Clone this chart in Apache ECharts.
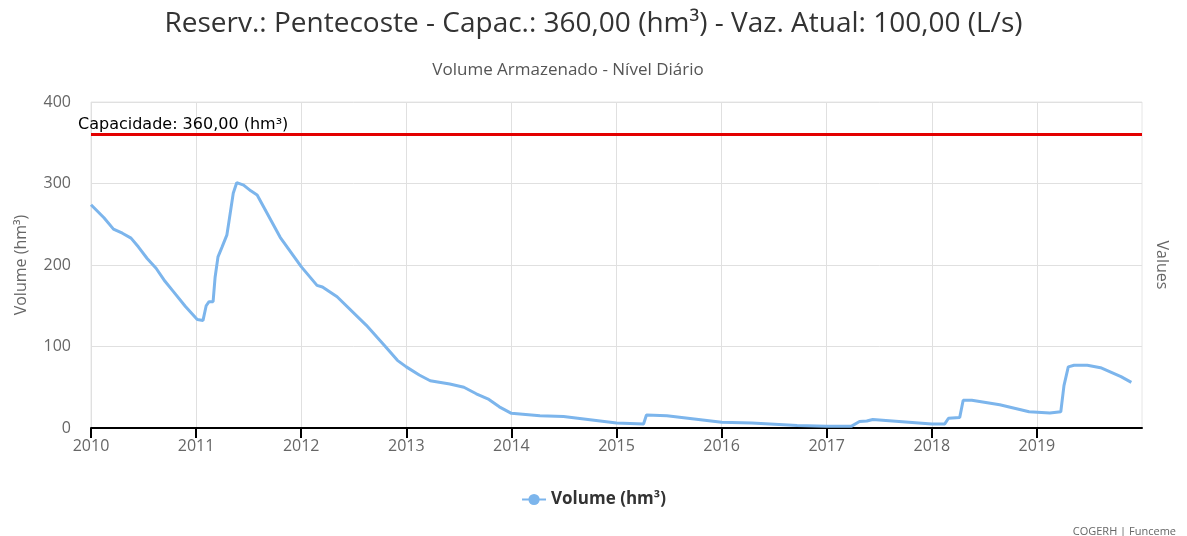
<!DOCTYPE html>
<html>
<head>
<meta charset="utf-8">
<script src="https://cdn.jsdelivr.net/npm/echarts@6/dist/echarts.min.js"></script>
<style>
  html, body { margin: 0; padding: 0; background: #fff; }
  #chart { width: 1187px; height: 536px; }
</style>
</head>
<body>
<div id="chart"></div>
<script>
// datas (volume diário, hm³)
var dates = [
  '2010-01-01', '2010-02-15', '2010-03-20', '2010-04-20', '2010-05-20', '2010-06-15',
  '2010-07-15', '2010-08-15', '2010-09-15', '2010-10-15', '2010-11-25', '2011-01-05',
  '2011-01-25', '2011-02-05', '2011-02-15', '2011-03-01', '2011-03-08', '2011-03-18',
  '2011-04-01', '2011-04-18', '2011-04-25', '2011-05-10', '2011-05-22', '2011-06-15',
  '2011-07-10', '2011-08-01', '2011-10-20', '2012-01-01', '2012-02-25', '2012-03-15',
  '2012-05-05', '2012-08-15', '2012-10-20', '2012-12-01', '2013-01-01', '2013-02-15',
  '2013-03-25', '2013-06-01', '2013-07-20', '2013-09-01', '2013-10-15', '2013-11-20',
  '2014-01-01', '2014-04-10', '2014-07-01', '2014-10-01', '2015-01-01', '2015-04-05',
  '2015-04-15', '2015-06-25', '2016-01-01', '2016-04-15', '2016-09-20', '2017-01-01',
  '2017-03-27', '2017-04-25', '2017-05-20', '2017-06-10', '2018-01-01', '2018-02-15',
  '2018-02-28', '2018-04-08', '2018-04-20', '2018-05-20', '2018-08-25', '2018-12-05',
  '2019-02-15', '2019-03-25', '2019-04-05', '2019-04-20', '2019-05-10', '2019-06-25',
  '2019-08-10', '2019-10-20', '2019-11-25'
]
var volumes = [
  274, 258, 244, 239, 233, 222,
  208, 196, 180, 167, 149, 133,
  132, 150, 155, 155, 185, 210,
  222, 237, 253, 288, 301, 298,
  291, 286, 234, 198, 175, 173,
  161, 126, 100, 83, 75, 65,
  58, 54, 50, 42, 35, 26,
  18, 15, 14, 10, 6, 5,
  16, 15, 7, 6, 3, 2,
  2, 8, 8.6, 10.5, 5, 5,
  12, 13, 34, 34, 28.6, 20,
  18.4, 20, 52, 75, 77, 77,
  74, 63, 56
]
var yearTicks = [2010, 2011, 2012, 2013, 2014, 2015, 2016, 2017, 2018, 2019]
var capacidade = 360

// converte data em ano decimal para o eixo x
function anoDecimal (s) {
  var d = new Date(s + 'T00:00:00Z')
  var y = d.getUTCFullYear()
  var ini = Date.UTC(y, 0, 1)
  var fim = Date.UTC(y + 1, 0, 1)
  return y + (d.getTime() - ini) / (fim - ini)
}
var serie = dates.map(function (d, i) { return [anoDecimal(d), volumes[i]] })

var fonte = '"Open Sans", "DejaVu Sans", sans-serif'
var myChart = echarts.init(document.getElementById('chart'))
var option = {
  backgroundColor: '#fff',
  animation: false,
  title: [
    {
      text: 'Reserv.: Pentecoste - Capac.: 360,00 (hm³) - Vaz. Atual: 100,00 (L/s)',
      left: 'center',
      top: 5,
      textStyle: { fontFamily: fonte, fontSize: 28, fontWeight: 'normal', color: '#333' }
    },
    {
      text: 'Volume Armazenado - Nível Diário',
      left: 563,
      textAlign: 'center',
      top: 57,
      textStyle: { fontFamily: fonte, fontSize: 17, fontWeight: 'normal', color: '#555' }
    },
    {
      text: 'COGERH | Funceme',
      right: 6,
      top: 521,
      textStyle: { fontFamily: fonte, fontSize: 11, fontWeight: 'normal', color: '#666' }
    }
  ],
  legend: {
    bottom: 23,
    left: 'center',
    itemWidth: 24,
    itemHeight: 14,
    textStyle: { fontFamily: fonte, fontSize: 17, fontWeight: 'bold', color: '#333' },
    data: ['Volume (hm³)']
  },
  grid: {
    left: 91,
    right: 45,
    top: 102,
    bottom: 108,
    show: true,
    borderColor: '#e6e6e6',
    borderWidth: 1
  },
  xAxis: {
    type: 'value',
    min: 2010,
    max: 2020,
    interval: 1,
    axisLine: { lineStyle: { color: '#000', width: 2 } },
    axisTick: { show: true, length: 10, lineStyle: { color: '#000', width: 2 }, customValues: yearTicks },
    axisLabel: {
      customValues: yearTicks,
      margin: 10,
      fontFamily: fonte,
      fontSize: 16,
      color: '#666',
      formatter: function (v) { return String(v) }
    },
    splitLine: { show: true, lineStyle: { color: '#e0e0e0', width: 1 } }
  },
  yAxis: [
    {
      type: 'value',
      min: 0,
      max: 400,
      interval: 100,
      name: 'Volume (hm³)',
      nameLocation: 'middle',
      nameGap: 62,
      nameTextStyle: { fontFamily: fonte, fontSize: 16, color: '#666' },
      axisLine: { show: false },
      axisTick: { show: false },
      axisLabel: { margin: 20, fontFamily: fonte, fontSize: 16, color: '#666' },
      splitLine: { lineStyle: { color: '#e0e0e0', width: 1 } }
    },
    {
      type: 'value',
      position: 'right',
      min: 0,
      max: 400,
      interval: 100,
      name: 'Values',
      nameLocation: 'middle',
      nameRotate: -90,
      nameGap: 12,
      nameTextStyle: { fontFamily: fonte, fontSize: 16, color: '#666' },
      axisLine: { show: false },
      axisTick: { show: false },
      axisLabel: { show: false },
      splitLine: { show: false }
    }
  ],
  series: [
    {
      name: 'Volume (hm³)',
      type: 'line',
      data: serie,
      symbol: 'circle',
      symbolSize: 10,
      showSymbol: false,
      color: '#7cb5ec',
      lineStyle: { width: 3, color: '#7cb5ec' },
      markLine: {
        silent: true,
        symbol: ['none', 'none'],
        lineStyle: { color: '#e30000', width: 3, type: 'solid' },
        label: {
          position: 'insideStartTop',
          distance: [-13, 2],
          formatter: 'Capacidade: 360,00 (hm³)',
          fontFamily: '"DejaVu Sans", sans-serif',
          fontSize: 16,
          color: '#000'
        },
        data: [{ yAxis: capacidade }]
      }
    }
  ]
}
myChart.setOption(option)
window.onresize = function () {
  myChart.resize()
}
</script>
</body>
</html>
